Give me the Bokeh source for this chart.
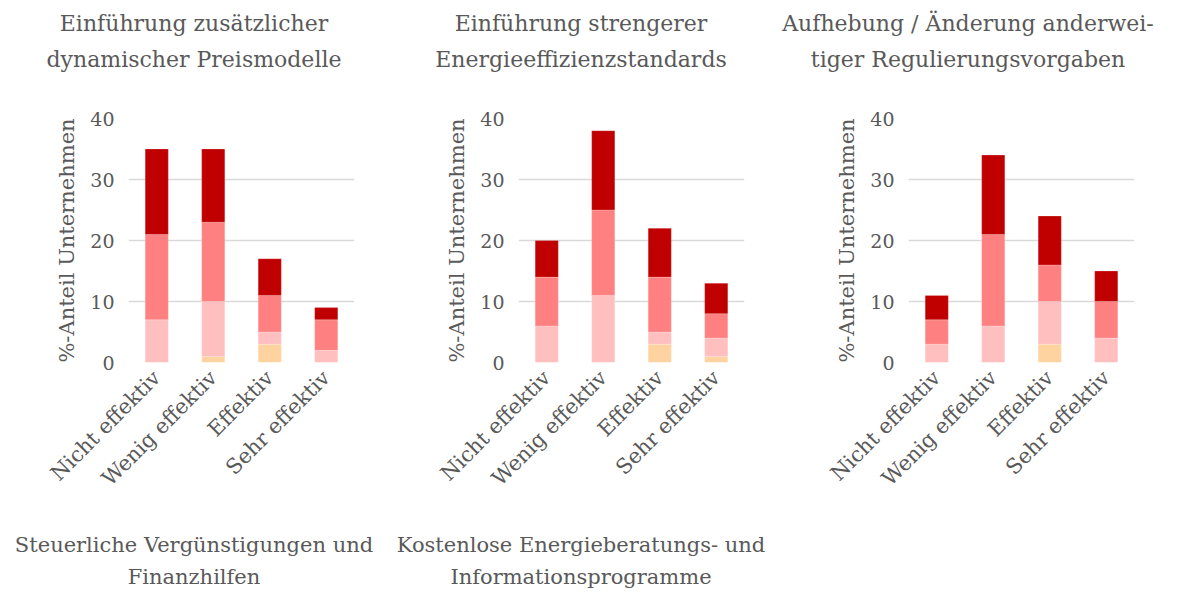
import math
from bokeh.plotting import figure
from bokeh.models import Title, Range1d, FactorRange, ColumnDataSource, FixedTicker
from bokeh.layouts import row, column
from bokeh.embed import file_html
from bokeh.resources import INLINE

categories = ["Nicht effektiv", "Wenig effektiv", "Effektiv", "Sehr effektiv"]
series = ["s1", "s2", "s3", "s4"]
colors = ["#FFD3A0", "#FFBFBF", "#FF8080", "#C00000"]
y_ticks = [0, 10, 20, 30, 40]
y_label = "%-Anteil Unternehmen"

titles_top = [
    ["Einführung zusätzlicher", "dynamischer Preismodelle"],
    ["Einführung strengerer", "Energieeffizienzstandards"],
    ["Aufhebung / Änderung anderwei-", "tiger Regulierungsvorgaben"],
]
titles_bottom = [
    ["Steuerliche Vergünstigungen und", "Finanzhilfen"],
    ["Kostenlose Energieberatungs- und", "Informationsprogramme"],
]

# chart 1
c1_s1 = [0, 1, 3, 0]
c1_s2 = [7, 9, 2, 2]
c1_s3 = [14, 13, 6, 5]
c1_s4 = [14, 12, 6, 2]
# chart 2
c2_s1 = [0, 0, 3, 1]
c2_s2 = [6, 11, 2, 3]
c2_s3 = [8, 14, 9, 4]
c2_s4 = [6, 13, 8, 5]
# chart 3
c3_s1 = [0, 0, 3, 0]
c3_s2 = [3, 6, 7, 4]
c3_s3 = [4, 15, 6, 6]
c3_s4 = [4, 13, 8, 5]

FONT = "DejaVu Serif"
GRAY = "#595959"
W = 387


def make_title_only(lines, height, s_outer, top, size):
    p = figure(width=W, height=height, output_backend="svg", toolbar_location=None,
               min_border=0, min_border_top=top,
               x_axis_location=None, y_axis_location=None)
    p.title.text = lines[0]
    p.title.align = "center"
    p.title.text_font = FONT
    p.title.text_font_size = size
    p.title.text_font_style = "normal"
    p.title.text_color = GRAY
    p.title.standoff = s_outer
    p.add_layout(Title(text=lines[1], align="center", text_font=FONT,
                       text_font_size=size, text_font_style="normal",
                       text_color=GRAY, standoff=0), "above")
    p.outline_line_color = None
    p.grid.grid_line_color = None
    return p


def make_chart(s1, s2, s3, s4, left):
    p = figure(x_range=FactorRange(*categories), y_range=Range1d(0, 40),
               width=W, height=430, output_backend="svg", toolbar_location=None,
               min_border_left=left, min_border_right=W - left - 226,
               min_border_bottom=166, min_border_top=20)
    src = ColumnDataSource(dict(cat=categories, s1=s1, s2=s2, s3=s3, s4=s4))
    p.vbar_stack(series, x="cat", width=0.41, color=colors, source=src,
                 line_color="white", line_alpha=0.4, line_width=0.5)
    p.outline_line_color = None
    p.xgrid.grid_line_color = None
    p.ygrid.grid_line_color = "#D9D9D9"
    p.ygrid.grid_line_width = 1.5
    p.yaxis.ticker = FixedTicker(ticks=y_ticks)
    for ax in (p.xaxis[0], p.yaxis[0]):
        ax.axis_line_color = None
        ax.major_tick_line_color = None
        ax.minor_tick_line_color = None
        ax.major_label_text_font = FONT
        ax.major_label_text_color = GRAY
    p.yaxis.major_label_text_font_size = "19px"
    p.xaxis.major_label_text_font_size = "21px"
    p.yaxis.axis_label = y_label
    p.yaxis.axis_label_text_font = FONT
    p.yaxis.axis_label_text_font_size = "21px"
    p.yaxis.axis_label_text_font_style = "normal"
    p.yaxis.axis_label_text_color = GRAY
    p.yaxis.axis_label_standoff = 8
    p.yaxis.major_label_standoff = 8
    p.xaxis.major_label_orientation = math.pi / 4
    p.xaxis.major_label_standoff = 6
    return p


heads = [make_title_only(t, 98, 17, 2, "22px") for t in titles_top]
charts = [
    make_chart(c1_s1, c1_s2, c1_s3, c1_s4, 128),
    make_chart(c2_s1, c2_s2, c2_s3, c2_s4, 131),
    make_chart(c3_s1, c3_s2, c3_s3, c3_s4, 134),
]
bottom = [make_title_only(t, 60, 12, 2, "21px") for t in titles_bottom]

layout = column(row(*heads), row(*charts), row(*bottom))
open("out.html", "w").write(file_html(layout, INLINE))
